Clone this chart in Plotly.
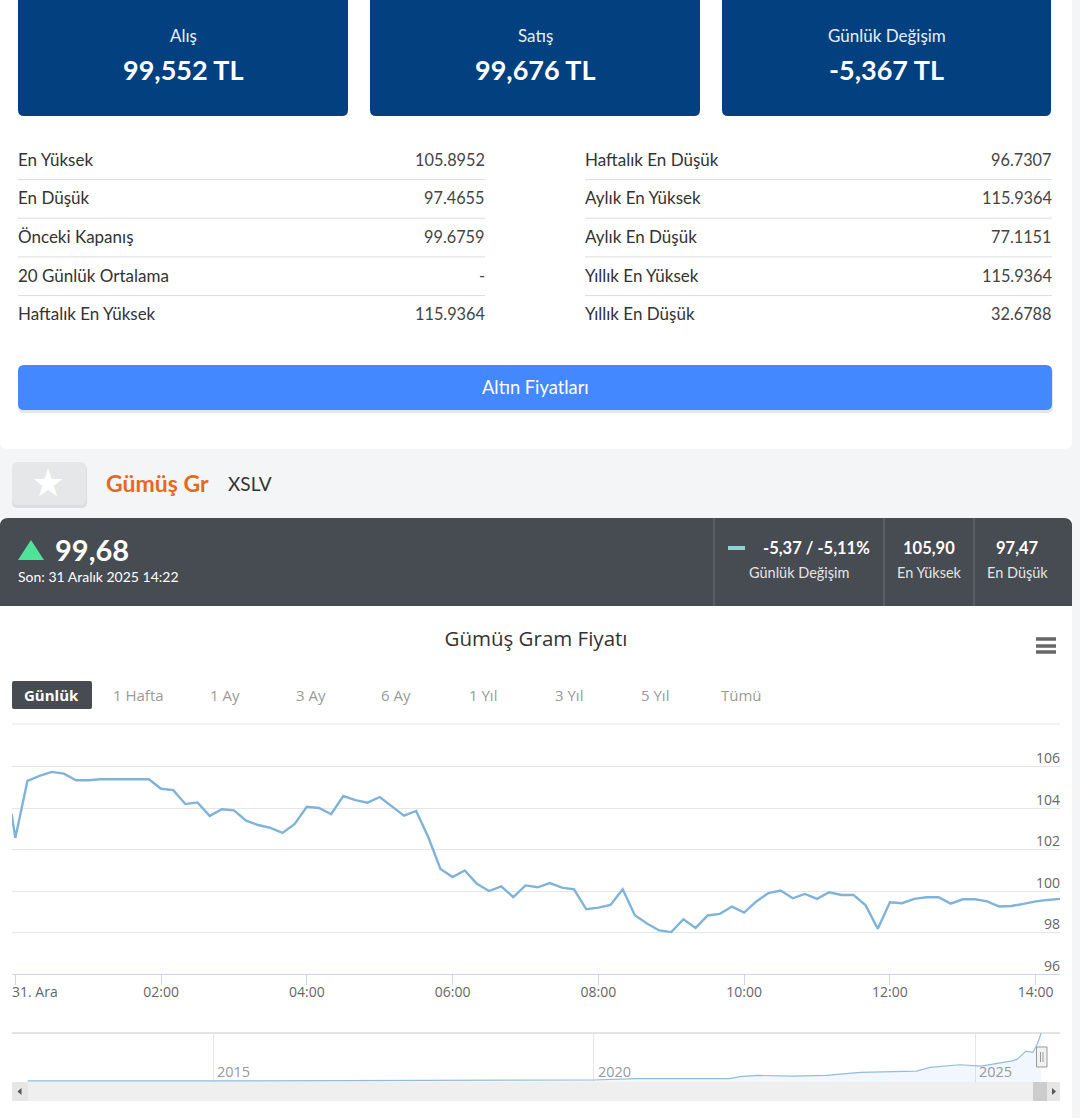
import pandas as pd
import plotly.graph_objects as go

# %%
# data
card_labels = ["Alış", "Satış", "Günlük Değişim"]
card_values = ["99,552 TL", "99,676 TL", "-5,367 TL"]

left_names = ["En Yüksek", "En Düşük", "Önceki Kapanış", "20 Günlük Ortalama", "Haftalık En Yüksek"]
left_values = ["105.8952", "97.4655", "99.6759", "-", "115.9364"]
right_names = ["Haftalık En Düşük", "Aylık En Yüksek", "Aylık En Düşük", "Yıllık En Yüksek", "Yıllık En Düşük"]
right_values = ["96.7307", "115.9364", "77.1151", "115.9364", "32.6788"]

range_labels = ["1 Hafta", "1 Ay", "3 Ay", "6 Ay", "1 Yıl", "3 Yıl", "5 Yıl", "Tümü"]

# 10 minute prices from 00:00 on, the line starts a little before midnight
first_time = "2025-12-30 23:57"
first_price = 103.71
prices = [
    102.56, 105.31, 105.55, 105.74, 105.66, 105.34, 105.34, 105.39, 105.39, 105.39,
    105.39, 105.39, 104.93, 104.86, 104.19, 104.27, 103.62, 103.94, 103.89, 103.39,
    103.18, 103.04, 102.80, 103.23, 104.06, 104.00, 103.70, 104.58, 104.38, 104.26,
    104.53, 104.06, 103.63, 103.86, 102.59, 101.06, 100.67, 100.99, 100.35, 100.00,
    100.22, 99.71, 100.27, 100.18, 100.38, 100.16, 100.08, 99.12, 99.20, 99.33,
    100.08, 98.83, 98.43, 98.10, 98.02, 98.64, 98.22, 98.82, 98.90, 99.25,
    98.96, 99.50, 99.90, 100.02, 99.65, 99.86, 99.62, 99.94, 99.81, 99.81,
    99.31, 98.18, 99.46, 99.41, 99.62, 99.70, 99.70, 99.39, 99.60, 99.60,
    99.50, 99.25, 99.28, 99.38, 99.50, 99.57, 99.62,
]
hour_ticks = ["2025-12-31 %02d:00" % h for h in range(0, 15, 2)]
hour_labels = ["", "02:00", "04:00", "06:00", "08:00", "10:00", "12:00", "14:00"]
price_ticks = [96, 98, 100, 102, 104, 106]
price_labels = ["96", "98", "100", "102", "104", "106"]

# long history for the navigator
nav_dates = [
    "2012-07-26", "2015-01-01", "2019-12-28", "2020-07-22", "2021-10-12", "2021-12-01",
    "2022-02-24", "2022-08-10", "2023-01-19", "2023-07-01", "2024-03-26", "2024-05-30",
    "2024-10-19", "2025-01-30", "2025-06-28", "2025-07-22", "2025-09-02", "2025-10-05",
    "2025-10-26", "2025-11-14",
]
nav_values = [2.5, 2.5, 4.7, 7.8, 7.8, 12.5, 15.6, 14, 15.6, 22.7, 25.8, 34.5, 40.8, 37.6, 50, 54, 73, 70, 90, 116]
nav_years = ["2015-01-01", "2020-01-01", "2025-01-01"]
nav_year_labels = ["2015", "2020", "2025"]

W, H = 1080, 1118
BODY = "Lato"
CHART = "Open Sans"


def X(px):
    return px / W


def Y(px):
    return 1 - px / H


shapes = []
annotations = []


def rect(x0, y0, x1, y1, color, radius=0, corners="tl tr br bl", line=None, layer="below"):
    # rounded rectangle as an svg path, given in page pixels
    tl = radius if "tl" in corners else 0
    tr = radius if "tr" in corners else 0
    br = radius if "br" in corners else 0
    bl = radius if "bl" in corners else 0
    p = [
        f"M{X(x0 + tl)},{Y(y0)}",
        f"L{X(x1 - tr)},{Y(y0)}",
        f"Q{X(x1)},{Y(y0)} {X(x1)},{Y(y0 + tr)}",
        f"L{X(x1)},{Y(y1 - br)}",
        f"Q{X(x1)},{Y(y1)} {X(x1 - br)},{Y(y1)}",
        f"L{X(x0 + bl)},{Y(y1)}",
        f"Q{X(x0)},{Y(y1)} {X(x0)},{Y(y1 - bl)}",
        f"L{X(x0)},{Y(y0 + tl)}",
        f"Q{X(x0)},{Y(y0)} {X(x0 + tl)},{Y(y0)}Z",
    ]
    shapes.append(dict(type="path", path=" ".join(p), xref="paper", yref="paper", fillcolor=color,
                       line=line or dict(width=0), layer=layer))


def hline(x0, x1, y, color, width=1, layer="below"):
    shapes.append(dict(type="line", xref="paper", yref="paper", x0=X(x0), x1=X(x1), y0=Y(y), y1=Y(y),
                       line=dict(color=color, width=width), layer=layer))


def vline(x, y0, y1, color, width=1, layer="below"):
    shapes.append(dict(type="line", xref="paper", yref="paper", x0=X(x), x1=X(x), y0=Y(y0), y1=Y(y1),
                       line=dict(color=color, width=width), layer=layer))


def poly(points, color, layer="above"):
    d = "M" + " L".join(f"{X(a)},{Y(b)}" for a, b in points) + "Z"
    shapes.append(dict(type="path", path=d, xref="paper", yref="paper", fillcolor=color,
                       line=dict(width=0), layer=layer))


def label(text, x, y, size, color="#333333", anchor="left", bold=False, font=BODY):
    # annotations carry a little padding, so nudge edge anchored text back
    shift = {"left": -2, "right": 2, "center": 0}[anchor]
    annotations.append(dict(text=f"<b>{text}</b>" if bold else text, x=X(x), y=Y(y - 1), xref="paper", yref="paper",
                            xanchor=anchor, yanchor="middle", xshift=shift, showarrow=False,
                            font=dict(family=font, size=size, color=color)))


# %%
# page background
rect(0, 0, 1080, 1118, "#f3f5f7")
rect(0, 0, 1072, 449, "#ffffff", radius=8, corners="br bl")
rect(0, 518, 1072, 1118, "#ffffff")

# top cards
for (x0, x1), name, val in zip([(18, 348), (370, 700), (722, 1051)], card_labels, card_values):
    rect(x0, 0, x1, 116, "#03407f", radius=6, corners="br bl")
    label(name, (x0 + x1) / 2, 37, 17, "#e8eef5", "center")
    label(val, (x0 + x1) / 2, 70, 27, "#ffffff", "center", bold=True)

# stat table
for i in range(5):
    y = 160 + i * 38.7
    label(left_names[i], 18, y, 17, "#333333")
    label(left_values[i], 485, y, 16.3, "#444444", "right")
    label(right_names[i], 585, y, 17, "#333333")
    label(right_values[i], 1052, y, 16.3, "#444444", "right")
    if i < 4:
        hline(18, 485, y + 19.5, "#dddddd")
        hline(585, 1052, y + 19.5, "#dddddd")

# button
rect(18, 367, 1053, 413, "#e4e8ee", radius=6)
rect(18, 365, 1052, 410, "#4488ff", radius=6)
label("Altın Fiyatları", 535, 388, 18.3, "#ffffff", "center")

# name row
rect(12, 464, 87, 508, "#dcdde0", radius=6)
rect(12, 462, 86, 505, "#e6e7e8", radius=6)
label("★", 48, 484, 38, "#ffffff", "center", font="DejaVu Sans")
label("Gümüş Gr", 106, 484, 23, "#e8681a", bold=True)
label("XSLV", 228, 484, 19, "#333333")

# dark band
rect(0, 518, 1072, 606, "#474b52", radius=8, corners="tl tr")
poly([(18, 560), (44, 560), (31, 540)], "#4fe39a")
label("99,68", 55, 550, 29, "#ffffff", bold=True)
label("Son: 31 Aralık 2025 14:22", 18, 577, 14, "#ffffff")
for x in [714, 884, 974]:
    vline(x, 518, 606, "#6f7378")
rect(728, 546, 745, 550, "#8fd3d8", layer="above")
label("-5,37 / -5,11%", 816, 549, 16.5, "#ffffff", "center", bold=True)
label("Günlük Değişim", 799, 573, 14.5, "#e4e4e4", "center")
label("105,90", 929, 549, 16.5, "#ffffff", "center", bold=True)
label("En Yüksek", 929, 573, 14.5, "#e4e4e4", "center")
label("97,47", 1017, 549, 16.5, "#ffffff", "center", bold=True)
label("En Düşük", 1017, 573, 14.5, "#e4e4e4", "center")

# menu icon
for y in [639, 646, 652]:
    hline(1036, 1056, y, "#666666", 3.5, layer="above")

# range buttons
rect(12, 681, 92, 709, "#474b52", radius=2)
label("Günlük", 51, 696, 15, "#ffffff", "center", bold=True, font=CHART)
for x, name in zip([138, 225, 311, 396, 483, 569, 655, 741], range_labels):
    label(name, x, 696, 15, "#9a9a9a", "center", font=CHART)

# first x label sits right of its tick
label("31. Ara", 12, 992, 14, "#666666", font=CHART)

# top edge of the plot has a grid line too
hline(12, 1060, 724, "#e6e6e6")

# navigator furniture
hline(12, 1060, 1033, "#c8c8c8")
rect(12, 1082, 1060, 1101, "#efefef", layer="above")
rect(12, 1082, 28, 1101, "#e6e6e6", layer="above")
rect(1033, 1082, 1047, 1101, "#cccccc", layer="above")
rect(1047, 1082, 1060, 1101, "#e6e6e6", layer="above")
poly([(21.5, 1088), (21.5, 1095), (17.5, 1091.5)], "#555555")
poly([(1052, 1088), (1052, 1095), (1056, 1091.5)], "#555555")
rect(1036.5, 1047, 1047, 1067, "#f2f2f2", line=dict(color="#999999", width=1), layer="above")
vline(1040.5, 1052, 1062, "#999999", layer="above")
vline(1043, 1052, 1062, "#999999", layer="above")

# %%
times = [first_time] + [str(t) for t in pd.date_range("2025-12-31 00:00", periods=len(prices), freq="10min")]
fig = go.Figure()
fig.add_trace(go.Scatter(x=times, y=[first_price] + prices, mode="lines", xaxis="x", yaxis="y",
                         line=dict(color="#7fb3da", width=2.4), showlegend=False))
fig.add_trace(go.Scatter(x=nav_dates, y=nav_values, mode="lines", xaxis="x2", yaxis="y2", fill="tozeroy",
                         fillcolor="rgba(124,181,236,0.10)", line=dict(color="#94bcd8", width=1.2), showlegend=False))

# y labels as annotations, inside tick labels would knock out the 14:00 tick
for v, name in zip(price_ticks, price_labels):
    annotations.append(dict(text=name, x=X(1060), y=v, xref="paper", yref="y", xanchor="right", yanchor="middle",
                            xshift=2, yshift=9, showarrow=False, font=dict(family=CHART, size=14, color="#666666")))

for d, name in zip(nav_years, nav_year_labels):
    annotations.append(dict(text=name, x=d, y=Y(1071), xref="x2", yref="paper", xanchor="left", yanchor="middle",
                            xshift=2, showarrow=False, font=dict(family=CHART, size=14.5, color="#999999")))

fig.update_layout(
    width=W,
    height=H,
    margin=dict(l=0, r=0, t=0, b=0),
    paper_bgcolor="#ffffff",
    plot_bgcolor="rgba(0,0,0,0)",
    title=dict(text="Gümüş Gram Fiyatı", x=536 / W, y=Y(639), xanchor="center", yanchor="middle",
               font=dict(family=CHART, size=20.5, color="#333333")),
    shapes=shapes,
    annotations=annotations,
    xaxis=dict(domain=[X(12), X(1060)], anchor="y", type="date",
               range=["2025-12-30 23:57:17", "2025-12-31 14:20"],
               tickmode="array", tickvals=hour_ticks, ticktext=hour_labels,
               ticks="outside", ticklen=10, tickcolor="#ccd6eb", showgrid=False,
               showline=True, linecolor="#ccd6eb", linewidth=1, ticklabelstandoff=-5,
               tickfont=dict(family=CHART, size=14, color="#666666")),
    yaxis=dict(domain=[Y(974), Y(724)], anchor="x", side="right", range=[96, 108.05],
               tickmode="array", tickvals=price_ticks, showticklabels=False,
               gridcolor="#e6e6e6", zeroline=False),
    xaxis2=dict(domain=[X(12), X(1060)], anchor="y2", type="date",
                range=["2012-05-12", "2026-02-12"],
                tickmode="array", tickvals=nav_years, ticktext=["", "", ""],
                showgrid=True, gridcolor="#e6e6e6", showline=False, ticks=""),
    yaxis2=dict(domain=[Y(1082), Y(1033)], anchor="x2", range=[0, 116], showgrid=False,
                showticklabels=False, zeroline=False, ticks=""),
)

fig.write_html("out.html", config=dict(displayModeBar=False), post_script="document.body.style.margin='0';")
